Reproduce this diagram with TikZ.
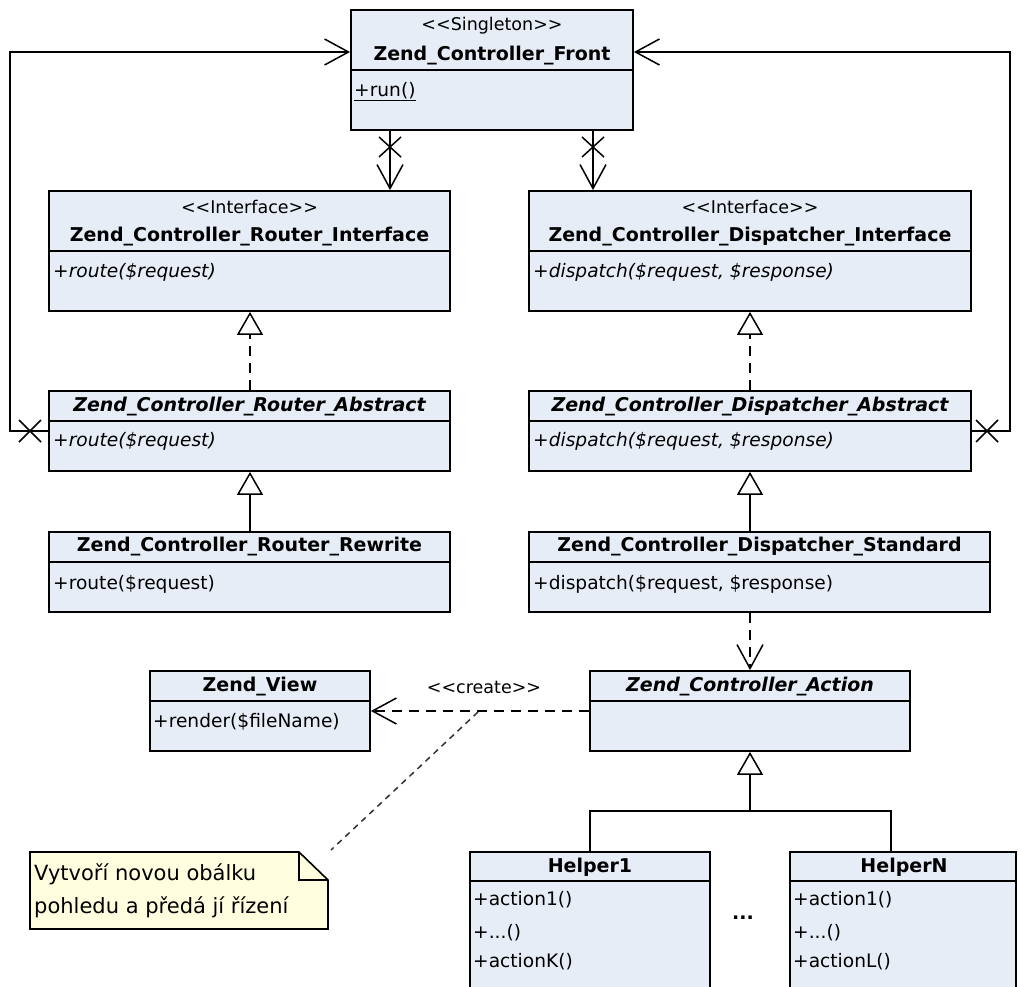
\documentclass[tikz,border=0pt]{standalone}
\usepackage{fontspec}
\setmainfont{DejaVu Sans}[Ligatures=TeXOff]
\usetikzlibrary{arrows.meta,fit}

\definecolor{classfill}{RGB}{231,237,247}
\definecolor{notefill}{RGB}{255,255,224}

\tikzset{
  umlbox/.style={draw=black, line width=1.8pt, fill=classfill, inner sep=0pt},
  sepline/.style={line width=1.4pt},
  conn/.style={line width=1.5pt},
  dashedconn/.style={conn, dash pattern=on 10pt off 7pt},
  notelink/.style={line width=1.5pt, black!80, dash pattern=on 6pt off 5pt},
  opentip/.style={-{Straight Barb[length=24pt,width=26pt,line width=1.5pt]}},
  hollowtri/.style={-{Triangle[length=23pt,width=26pt,fill=white,line width=1.5pt]}},
  stereo/.style={font=\fontsize{17.5}{20}\selectfont, inner sep=0pt},
  cname/.style={font=\fontsize{19}{22}\selectfont\bfseries, inner sep=0pt},
  aname/.style={font=\fontsize{19}{22}\selectfont\bfseries\itshape, inner sep=0pt},
  member/.style={font=\fontsize{18.6}{22}\selectfont, inner sep=0pt, anchor=west},
  amember/.style={member, font=\fontsize{18.6}{22}\selectfont\itshape},
  xmark/.style={conn},
}

% class rectangle: name, x1, y1, x2, y2, y of the compartment line
\newcommand\umlrect[6]{%
  \node[umlbox, fit={(#2,#3) (#4,#5)}] (#1) {};
  \draw[sepline] (#2,#6) -- (#4,#6);
}

\begin{document}
\begin{tikzpicture}[x=1pt, y=-1pt]
\useasboundingbox (0,0) rectangle (1020,987);
\clip (0,0) rectangle (1020,987);
\fill[white] (0,0) rectangle (1020,987);

% ---- front controller
\umlrect{front}{351}{10}{633}{130}{70}
\node[stereo] (frontst) at (492,26) {<<Singleton>>};
\node[cname] (frontnm) at (492,56) {Zend\_Controller\_Front};
\node[member] (frontrun) at (354,92) {\underline{+run()}};

% ---- router branch
\umlrect{ri}{49}{191}{450}{311}{251}
\node[stereo] (rist) at (249.5,207) {<<Interface>>};
\node[cname] (rinm) at (249.5,237) {Zend\_Controller\_Router\_Interface};
\node[amember] (rim) at (53,272) {+route(\$request)};

\umlrect{ra}{49}{391}{450}{471}{421}
\node[aname] (ranm) at (249.5,407) {Zend\_Controller\_Router\_Abstract};
\node[amember] (ram) at (53,441) {+route(\$request)};

\umlrect{rr}{49}{532}{450}{612}{562}
\node[cname] (rrnm) at (249.5,547) {Zend\_Controller\_Router\_Rewrite};
\node[member] (rrm) at (53,584) {+route(\$request)};

% ---- dispatcher branch
\umlrect{di}{529}{191}{971}{311}{251}
\node[stereo] (dist) at (750,207) {<<Interface>>};
\node[cname] (dinm) at (750,237) {Zend\_Controller\_Dispatcher\_Interface};
\node[amember] (dim) at (533,272) {+dispatch(\$request, \$response)};

\umlrect{da}{529}{391}{971}{471}{421}
\node[aname] (danm) at (750,407) {Zend\_Controller\_Dispatcher\_Abstract};
\node[amember] (dam) at (533,441) {+dispatch(\$request, \$response)};

\umlrect{ds}{529}{532}{990}{612}{562}
\node[cname] (dsnm) at (759.5,547) {Zend\_Controller\_Dispatcher\_Standard};
\node[member] (dsm) at (533,584) {+dispatch(\$request, \$response)};

% ---- action, view and helpers
\umlrect{act}{590}{671}{910}{751}{701}
\node[aname] (actnm) at (750,687) {Zend\_Controller\_Action};

\umlrect{view}{150}{671}{370}{751}{701}
\node[cname] (viewnm) at (260,687) {Zend\_View};
\node[member] (viewm) at (153,722) {+render(\$fileName)};

\umlrect{h1}{470}{852}{710}{1005}{881}
\node[cname] (h1nm) at (590,867) {Helper1};
\node[member] (h1a) at (473,900) {+action1()};
\node[member] (h1b) at (473,933) {+...()};
\node[member] (h1c) at (473,962) {+actionK()};

\umlrect{hn}{790}{852}{1016}{1005}{881}
\node[cname] (hnnm) at (904,867) {HelperN};
\node[member] (hna) at (793,900) {+action1()};
\node[member] (hnb) at (793,933) {+...()};
\node[member] (hnc) at (793,962) {+actionL()};

\node[cname] (dots) at (743,918) {...};

% ---- note
\draw[line width=1.6pt, fill=notefill]
  (30,852) -- (299,852) -- (328,880) -- (328,929) -- (30,929) -- cycle;
\draw[line width=1.4pt] (299,852) -- (299,880) -- (328,880);
\node[inner sep=0pt, anchor=west, align=left,
      font=\fontsize{21}{33}\selectfont] (notetext) at (34,891)
  {Vytvoří novou obálku\\pohledu a předá jí řízení};
\coordinate (notecorner) at (331,850);

% ---- associations from the front controller
\draw[conn, opentip] (front.south -| 390,0) -- (ri.north -| 390,0);
\draw[xmark] (390,147) +(-11,-10) -- +(11,10) +(-11,10) -- +(11,-10);
\draw[conn, opentip] (front.south -| 593,0) -- (di.north -| 593,0);
\draw[xmark] (593,147) +(-11,-10) -- +(11,10) +(-11,10) -- +(11,-10);

\draw[conn, opentip] (ra.west |- 0,431) -- (10,431) -- (10,52) -- (front.west |- 0,52);
\draw[xmark] (30,431) +(-11,-11) -- +(11,11) +(-11,11) -- +(11,-11);
\draw[conn, opentip] (da.east |- 0,431) -- (1010,431) -- (1010,52) -- (front.east |- 0,52);
\draw[xmark] (987,431) +(-11,-11) -- +(11,11) +(-11,11) -- +(11,-11);

% ---- realisations and generalisations
\draw[dashedconn, hollowtri] (ra.north -| 250,0) -- (ri.south -| 250,0);
\draw[conn, hollowtri] (rr.north -| 250,0) -- (ra.south -| 250,0);
\draw[dashedconn, hollowtri] (da.north) -- (di.south);
\draw[conn, hollowtri] (ds.north -| da.north) -- (da.south);

% ---- dependencies
\draw[dashedconn, opentip] (ds.south -| act.north) -- (act.north);
\draw[dashedconn, opentip] (act.west |- 0,711) -- (view.east |- 0,711);
\node[stereo] (createlbl) at (484,687) {<<create>>};
\coordinate (notefoot) at (478,712);
\draw[notelink] (notefoot) -- (notecorner);

% ---- helpers extend the action
\coordinate (hjoin) at (750,811);
\draw[conn, hollowtri] (h1.north) |- (hjoin) -- (act.south);
\draw[conn] (hn.north -| 891,0) |- (hjoin);

\end{tikzpicture}
\end{document}
